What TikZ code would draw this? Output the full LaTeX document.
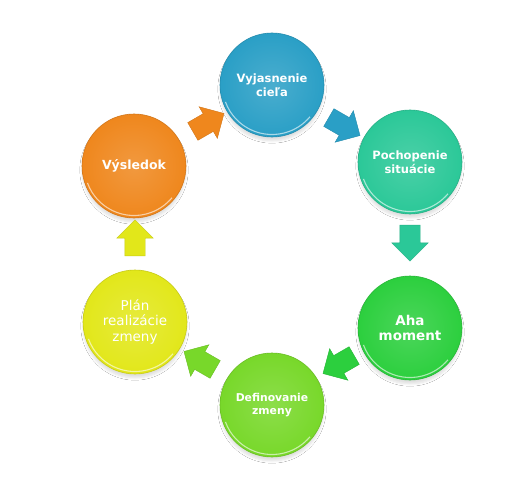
\documentclass[tikz,border=0pt]{standalone}
\usepackage{fontspec}
\setmainfont{DejaVu Sans}
\usetikzlibrary{shapes.arrows,shadows.blur}
\definecolor{cblue}{HTML}{2A9FC6}
\definecolor{cteal}{HTML}{2BC898}
\definecolor{cgreen}{HTML}{2CCF3E}
\definecolor{clime}{HTML}{78D82A}
\definecolor{cyellow}{HTML}{E2E71A}
\definecolor{corange}{HTML}{EF871D}
\tikzset{
  bubble/.style={circle, minimum size=104pt, inner sep=0pt, align=center,
    text=white, font=\bfseries\fontsize{11.5}{14}\selectfont,
    shading=radial, inner color=#1!85!white, outer color=#1,
    draw=#1!88!black, line width=0.6pt,
    blur shadow={shadow xshift=0pt, shadow yshift=-4pt, shadow opacity=12, shadow blur steps=6},
    path picture={\draw[white, opacity=.6, line width=1.1pt]
      (path picture bounding box.center) ++(200:49.5pt)
      arc[start angle=200, end angle=320, radius=49.5pt];}},
  flow/.style={single arrow, draw=#1!88!black, fill=#1, minimum height=36pt,
    single arrow head extend=8pt, inner xsep=0pt, inner ysep=10pt,
    line width=0.4pt},
}
\begin{document}
\begin{tikzpicture}[x=1pt, y=1pt]
\useasboundingbox[fill=white] (0,0) rectangle (527,483);
\node[bubble=cblue]   (a) at (272,398) {Vyjasnenie\\cieľa};
\node[bubble=cteal]   (b) at (410,321) {Pochopenie\\situácie};
\node[bubble=cgreen, font=\bfseries\fontsize{13.5}{15.5}\selectfont]  (c) at (410,155) {Aha\\moment};
\node[bubble=clime, font=\bfseries\fontsize{10.8}{13}\selectfont]   (d) at (272,78)  {Definovanie\\zmeny};
\node[bubble=cyellow, font=\fontsize{13.5}{15.5}\selectfont] (e) at (135,161) {Plán\\realizácie\\zmeny};
\node[bubble=corange, font=\bfseries\fontsize{12.5}{15}\selectfont] (f) at (134,317) {Výsledok};
\node[flow=corange, rotate=30]  (af) at (204,358) {};
\node[flow=cblue, rotate=-30]   (ab) at (340,359) {};
\node[flow=cteal, rotate=-90]   (bc) at (410,245) {};
\node[flow=cgreen, rotate=210]  (cd) at (343,121) {};
\node[flow=clime, rotate=150]   (de) at (204,120) {};
\node[flow=cyellow, rotate=90]  (ef) at (135,240) {};
\end{tikzpicture}
\end{document}
